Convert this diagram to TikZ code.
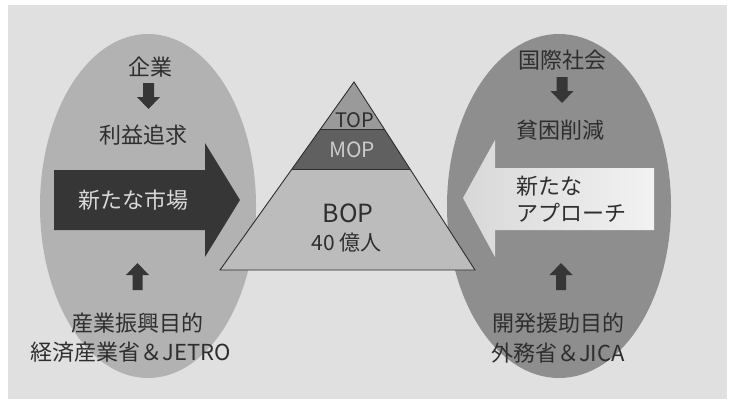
\documentclass[tikz,border=0pt]{standalone}
\usepackage{fontspec}
\setmainfont{Noto Sans CJK JP}
\usetikzlibrary{calc}
\definecolor{paper}{HTML}{E0E0E0}
\definecolor{ellL}{HTML}{B2B2B2}
\definecolor{ellR}{HTML}{8E8E8E}
\definecolor{ink}{HTML}{2E2E2E}
\definecolor{darkarrow}{HTML}{363636}
\definecolor{topc}{HTML}{9A9A9A}
\definecolor{mopc}{HTML}{606060}
\definecolor{bopc}{HTML}{BCBCBC}
\definecolor{lightarrowL}{HTML}{D8D8D8}
\definecolor{lightarrowR}{HTML}{F2F2F2}
\begin{document}
\begin{tikzpicture}[x=1pt,y=-1pt,
  lbl/.style={font=\fontsize{22}{26}\selectfont, text=ink, inner sep=0pt},
  downarr/.pic={\fill[darkarrow] (-5.5,0) -- (5.5,0) -- (5.5,14) -- (11.5,14) -- (0,26) -- (-11.5,14) -- (-5.5,14) -- cycle;},
  uparr/.pic={\fill[darkarrow] (-5,27) -- (5,27) -- (5,12) -- (11.5,12) -- (0,0) -- (-11.5,12) -- (-5,12) -- cycle;}]
\useasboundingbox (0,0) rectangle (739,407);
\fill[white] (0,0) rectangle (739,407);
\fill[paper] (8,5) rectangle (727,399);
% ellipses
\fill[ellL] (148,206) ellipse [x radius=108pt, y radius=172pt];
\fill[ellR] (559,206) ellipse [x radius=112pt, y radius=172pt];
% big arrows
\fill[darkarrow] (54,170) -- (205,170) -- (205,143) -- (240,200) -- (205,257) -- (205,230) -- (54,230) -- cycle;
\shade[left color=lightarrowL, right color=lightarrowR] (654,168) -- (495,168) -- (495,140) -- (463,198) -- (495,257) -- (495,230) -- (654,230) -- cycle;
% pyramid
\coordinate (apex) at (354,82);
\coordinate (bl) at (220,270);
\coordinate (br) at (475,270);
\coordinate (l1) at ($(apex)!0.255!(bl)$);
\coordinate (r1) at ($(apex)!0.255!(br)$);
\coordinate (l2) at ($(apex)!0.463!(bl)$);
\coordinate (r2) at ($(apex)!0.463!(br)$);
\fill[topc] (apex) -- (l1) -- (r1) -- cycle;
\fill[mopc] (l1) -- (l2) -- (r2) -- (r1) -- cycle;
\fill[bopc] (l2) -- (bl) -- (br) -- (r2) -- cycle;
\draw[ink, line width=0.9pt] (l1) -- (r1) (l2) -- (r2);
\draw[ink, line width=0.9pt, line join=miter] (apex) -- (bl) -- (br) -- cycle;
\node[font=\fontsize{20}{22}\selectfont, text=ink, inner sep=0pt] (top) at (355,120) {TOP};
\node[font=\fontsize{21}{23}\selectfont, text=black!20, inner sep=0pt] (mop) at (352,150) {MOP};
\node[font=\fontsize{25}{27}\selectfont, text=ink, inner sep=0pt] (bop) at (348,213) {BOP};
\node[font=\fontsize{21}{23}\selectfont, text=ink, inner sep=0pt] (ppl) at (347,243) {40 億人};
% left side
\node[lbl] (kigyo) at (150,67) {企業};
\pic at (148.5,83) {downarr};
\node[lbl] (rieki) at (143,135) {利益追求};
\node[lbl, text=black!15] (shijo) at (133,200) {新たな市場};
\pic at (137.5,263) {uparr};
\node[lbl] (sangyo) at (137,323) {産業振興目的};
\node[lbl] (meti) at (131,352) {経済産業省＆JETRO};
% right side
\node[lbl] (kokusai) at (562,60) {国際社会};
\pic at (562,77) {downarr};
\node[lbl] (hinkon) at (560,130) {貧困削減};
\node[lbl, anchor=west, align=left, font=\fontsize{22}{27}\selectfont] (approach) at (516,199) {新たな\\アプローチ};
\pic at (561,263) {uparr};
\node[lbl] (kaihatsu) at (558,323) {開発援助目的};
\node[lbl] (mofa) at (558,353) {外務省＆JICA};
\end{tikzpicture}
\end{document}
